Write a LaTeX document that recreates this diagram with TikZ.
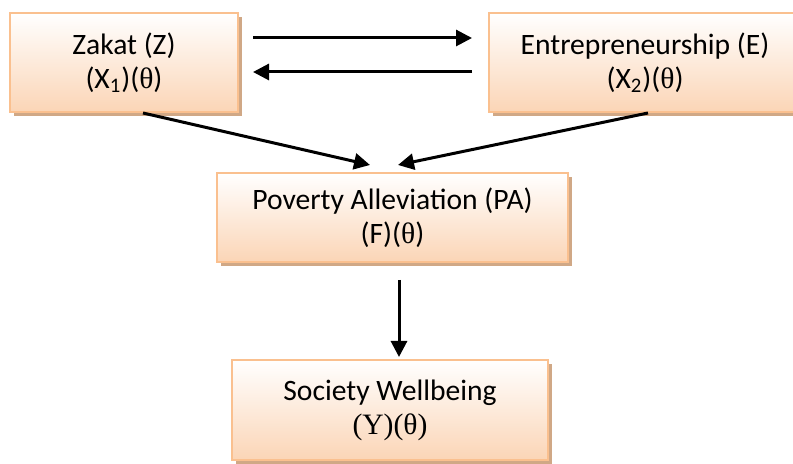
\documentclass[tikz,border=0pt]{standalone}
\usepackage{fontspec}
\setmainfont{Carlito}
\newfontfamily\serifth{Liberation Serif}
\usetikzlibrary{arrows.meta,shadows}
\definecolor{peachline}{RGB}{250,192,143}
\definecolor{peachbot}{RGB}{251,213,182}
\definecolor{peachshadow}{RGB}{208,168,134}
\tikzset{varbox/.style={draw=peachline, line width=1pt, top color=white, bottom color=peachbot,
    drop shadow={shadow xshift=2pt, shadow yshift=-2pt, fill=peachshadow, opacity=1},
    align=center, inner sep=0pt, font=\fontsize{14.8}{17}\selectfont},
  flow/.style={line width=1.5pt, -{Triangle[length=8pt,width=8pt]}}}
\begin{document}
\begin{tikzpicture}[x=0.5pt,y=-0.5pt]
\useasboundingbox (0,0) rectangle (793,464);

\node [varbox, minimum width=114pt, minimum height=49.5pt] (Z) at (124,62.5)
  {Zakat (Z)\\(X\textsubscript{1})({\serifth θ})};
\node [varbox, minimum width=156pt, minimum height=49.5pt] (E) at (645,62.5)
  {Entrepreneurship (E)\\(X\textsubscript{2})({\serifth θ})};
\node [varbox, minimum width=175.5pt, minimum height=44.5pt] (PA) at (392.5,217.5)
  {Poverty Alleviation (PA)\\(F)({\serifth θ})};
\node [varbox, minimum width=158pt, minimum height=50pt] (SW) at (390,410)
  {Society Wellbeing\\{\serifth (Y)(θ)}};

\draw [flow] ([shift={(7pt,12.25pt)}]Z.east) -- ([shift={(-8pt,12.25pt)}]E.west);
\draw [flow] ([shift={(-8pt,-4.75pt)}]E.west) -- ([shift={(7pt,-4.75pt)}]Z.east);
\draw [flow] ([xshift=9.5pt]Z.south) -- ([shift={(-11.25pt,3.5pt)}]PA.north);
\draw [flow] ([xshift=1.5pt]E.south) -- ([shift={(2.75pt,3.5pt)}]PA.north);
\draw [flow] ([shift={(3.25pt,-8.5pt)}]PA.south) -- ([shift={(4.5pt,1pt)}]SW.north);

\end{tikzpicture}
\end{document}
